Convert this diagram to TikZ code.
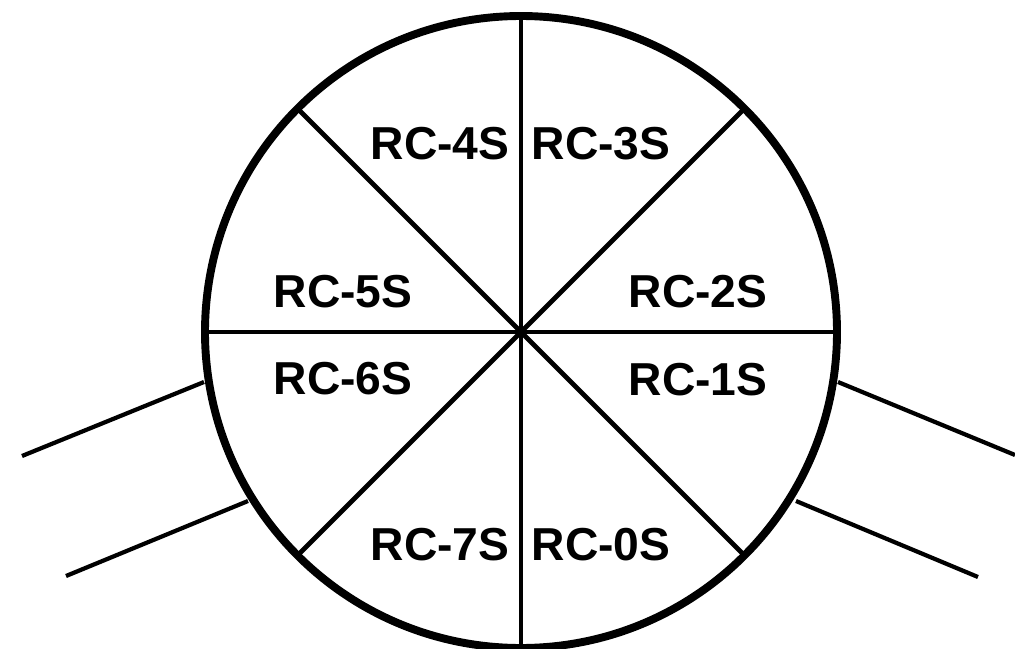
\documentclass[tikz,border=0pt]{standalone}
\usepackage{fontspec}
\setmainfont{Liberation Sans}
\tikzset{
  rim/.style={line width=4.5pt},
  spoke/.style={line width=2.8pt},
  lead/.style={line width=2.4pt},
  sector/.style={font=\fontsize{26.3}{31}\selectfont\bfseries, inner sep=0pt}
}
\begin{document}
\begin{tikzpicture}[x=0.02cm, y=-0.02cm]
\useasboundingbox (0,0) rectangle (1015,649);
\coordinate (o) at (521,332);
\draw[rim] (o) circle (316);
\foreach \a in {0,45,...,315}
  \draw[spoke] (o) -- ++(\a:316);
% leads
\coordinate (la) at (204,382);
\coordinate (lb) at (248,501);
\coordinate (ra) at (838,382);
\coordinate (rb) at (796,501);
\draw[lead] (la) -- (22,456);
\draw[lead] (lb) -- (66,576);
\draw[lead] (ra) -- (1015,455);
\draw[lead] (rb) -- (978,577);
% sectors
\node[sector] (rc4) at (440,144) {RC-4S};
\node[sector] (rc3) at (601,144) {RC-3S};
\node[sector] (rc5) at (343,292) {RC-5S};
\node[sector] (rc2) at (698,292) {RC-2S};
\node[sector] (rc6) at (343,379) {RC-6S};
\node[sector] (rc1) at (698,380) {RC-1S};
\node[sector] (rc7) at (440,545) {RC-7S};
\node[sector] (rc0) at (601,545) {RC-0S};
\end{tikzpicture}
\end{document}
